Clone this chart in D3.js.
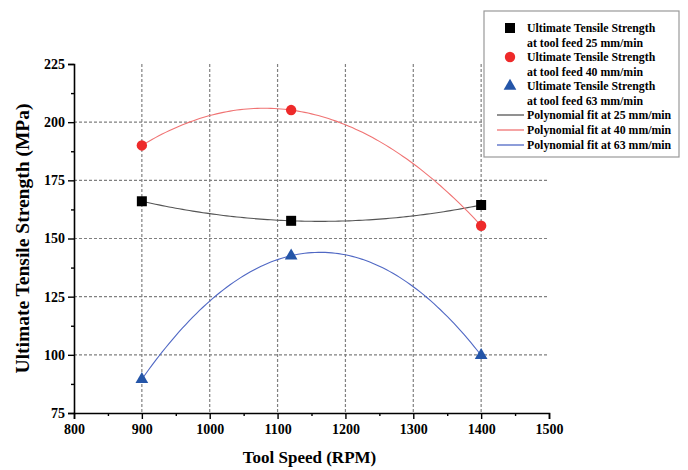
<!DOCTYPE html>
<html>
<head>
<meta charset="utf-8">
<script src="https://cdn.jsdelivr.net/npm/d3@7"></script>
<style>
  body { margin: 0; background: #fff; }
  text { font-family: "Liberation Serif", "Times New Roman", serif; font-weight: bold; }
</style>
</head>
<body>
<div id="chart"></div>
<script>
// Data
const speeds = [900, 1120, 1400];
const uts25 = [166, 157.6, 164.4];
const uts40 = [190, 205.2, 155.5];
const uts63 = [89.5, 142.6, 99.8];

const xTicks = [800, 900, 1000, 1100, 1200, 1300, 1400, 1500];
const yTicks = [75, 100, 125, 150, 175, 200, 225];

const series = [
  {name: "25", values: uts25, color: "#000000", line: "#555555", shape: d3.symbolSquare, size: 100},
  {name: "40", values: uts40, color: "#ee2a2a", line: "#f07373", shape: d3.symbolCircle, size: 85},
  {name: "63", values: uts63, color: "#2455a8", line: "#5068c4", shape: d3.symbolTriangle, size: 70}
];

const W = 688, H = 470;
const margin = {top: 64, right: 139, bottom: 57, left: 74};
const width = W - margin.left - margin.right;
const height = H - margin.top - margin.bottom;

const svg = d3.select("#chart").append("svg")
    .attr("width", W).attr("height", H);
const g = svg.append("g").attr("transform", `translate(${margin.left},${margin.top})`);

const x = d3.scaleLinear().domain([800, 1500]).range([0, width]);
const y = d3.scaleLinear().domain([75, 225]).range([height, 0]);

// grid lines
g.selectAll(".vgrid").data(xTicks.filter(t => t > 800 && t < 1500)).join("line")
    .attr("x1", d => x(d)).attr("x2", d => x(d))
    .attr("y1", 0).attr("y2", height)
    .attr("stroke", "#808080").attr("stroke-width", 1.2).attr("stroke-dasharray", "3,2");
g.selectAll(".hgrid").data(yTicks.filter(t => t > 75 && t < 225)).join("line")
    .attr("x1", 0).attr("x2", width)
    .attr("y1", d => y(d)).attr("y2", d => y(d))
    .attr("stroke", "#808080").attr("stroke-width", 1.2).attr("stroke-dasharray", "3,2");

// quadratic least-squares fit
function polyfit2(xs, ys) {
  const n = xs.length;
  const s = k => d3.sum(xs, v => Math.pow(v, k));
  const t = k => d3.sum(xs, (v, i) => Math.pow(v, k) * ys[i]);
  const A = [[n, s(1), s(2)], [s(1), s(2), s(3)], [s(2), s(3), s(4)]];
  const b = [t(0), t(1), t(2)];
  // gaussian elimination
  for (let i = 0; i < 3; i++) {
    for (let j = i + 1; j < 3; j++) {
      const f = A[j][i] / A[i][i];
      for (let k = i; k < 3; k++) A[j][k] -= f * A[i][k];
      b[j] -= f * b[i];
    }
  }
  const c = [0, 0, 0];
  for (let i = 2; i >= 0; i--) {
    let sum = b[i];
    for (let k = i + 1; k < 3; k++) sum -= A[i][k] * c[k];
    c[i] = sum / A[i][i];
  }
  return v => c[0] + c[1] * v + c[2] * v * v;
}

const line = d3.line().x(d => x(d[0])).y(d => y(d[1]));
series.forEach(s => {
  const f = polyfit2(speeds, s.values);
  const pts = d3.range(900, 1401, 5).map(v => [v, f(v)]);
  g.append("path").datum(pts)
      .attr("d", line).attr("fill", "none")
      .attr("stroke", s.line).attr("stroke-width", 1.1);
});

series.forEach(s => {
  g.selectAll(null).data(speeds.map((v, i) => [v, s.values[i]])).join("path")
      .attr("transform", d => `translate(${x(d[0])},${y(d[1])})`)
      .attr("d", d3.symbol().type(s.shape).size(s.size))
      .attr("fill", s.color);
});

// axes
g.append("g").attr("transform", `translate(0,${height})`)
    .call(d3.axisBottom(x).tickValues(xTicks).tickFormat(d3.format("d")).tickSize(6).tickPadding(5));
g.append("g").attr("transform", `translate(0,${height})`)
    .call(d3.axisBottom(x).tickValues(d3.range(850, 1500, 100)).tickFormat("").tickSize(3))
    .select(".domain").remove();
g.append("g")
    .call(d3.axisLeft(y).tickValues(yTicks).tickSize(6).tickPadding(3));
g.append("g")
    .call(d3.axisLeft(y).tickValues(d3.range(87.5, 225, 25)).tickFormat("").tickSize(3))
    .select(".domain").remove();

g.selectAll(".domain").attr("stroke", "#000").attr("stroke-width", 1.6);
g.selectAll(".tick line").attr("stroke", "#000").attr("stroke-width", 1.4);
g.selectAll(".tick text").attr("font-size", 14).attr("fill", "#000")
    .style("font-family", "Liberation Serif").style("font-weight", "bold");

// axis titles
svg.append("text")
    .attr("x", margin.left + width / 2 - 2).attr("y", 463)
    .attr("text-anchor", "middle").attr("font-size", 17)
    .text("Tool Speed (RPM)");
svg.append("text")
    .attr("transform", `translate(29,${margin.top + height / 2}) rotate(-90)`)
    .attr("text-anchor", "middle").attr("font-size", 19.5)
    .text("Ultimate Tensile Strength (MPa)");

// legend
const lg = svg.append("g").attr("transform", "translate(484,11)");
lg.append("rect").attr("width", 195).attr("height", 146)
    .attr("fill", "#fff").attr("stroke", "#999").attr("stroke-width", 1.2);
const rowY = [17, 32, 46, 61, 75, 90, 104, 119, 134];
series.forEach((s, i) => {
  lg.append("path")
      .attr("transform", `translate(26,${rowY[i * 2]})`)
      .attr("d", d3.symbol().type(s.shape).size(s.size))
      .attr("fill", s.color);
  lg.append("text").attr("x", 43).attr("y", rowY[i * 2] + 4)
      .attr("font-size", 11.8).text("Ultimate Tensile Strength");
  lg.append("text").attr("x", 43).attr("y", rowY[i * 2 + 1] + 4)
      .attr("font-size", 11.8).text(`at tool feed ${s.name} mm/min`);
});
series.forEach((s, i) => {
  const yy = rowY[6 + i];
  lg.append("line").attr("x1", 13).attr("x2", 40).attr("y1", yy).attr("y2", yy)
      .attr("stroke", s.line).attr("stroke-width", 1.3);
  lg.append("text").attr("x", 43).attr("y", yy + 4)
      .attr("font-size", 11.8).text(`Polynomial fit at ${s.name} mm/min`);
});
</script>
</body>
</html>
